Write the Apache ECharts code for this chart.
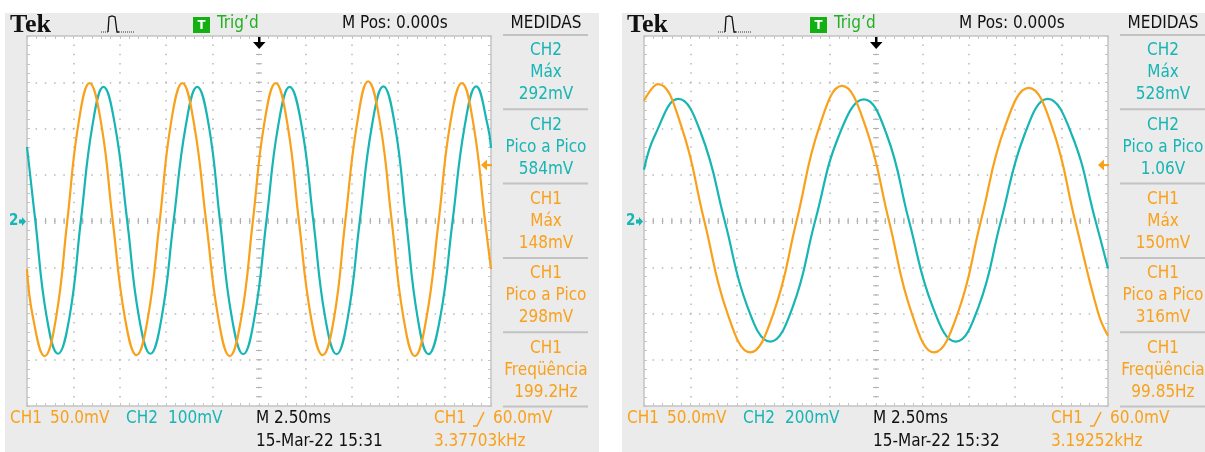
<!DOCTYPE html>
<html><head><meta charset="utf-8">
<script src="https://cdn.jsdelivr.net/npm/echarts@6/dist/echarts.min.js"></script>
<style>html,body{margin:0;padding:0;background:#fff}#c{width:1205px;height:452px}</style>
</head><body><div id="c"></div>
<script>
// ---------- DATA (time in ms relative to trigger, voltage in mV) ----------
// Left screen (≈200 Hz)
const timeL1 = [-12.50,-12.18,-11.55,-10.93,-10.33,-9.73,-9.13,-8.50,-7.88,-7.23,-6.60,-5.98,-5.35,-4.75,-4.13,-3.50,-2.85,-2.20,-1.58,-0.95,-0.33,0.28,0.90,1.53,2.15,2.80,3.43,4.05,4.65,5.28,5.88,6.53,7.15,7.78,8.40,9.03,9.68,10.30,10.93,11.55,12.18,12.50];
const ch1L   = [-52,-104,-146,-104,0,105,149,105,0,-104,-145,-104,0,105,149,105,0,-104,-146,-104,0,105,149,105,0,-104,-145,-104,0,105,151,105,0,-104,-146,-104,0,105,149,105,0,-52];
const timeL2 = [-12.50,-12.05,-11.45,-10.83,-10.20,-9.60,-8.98,-8.38,-7.75,-7.10,-6.48,-5.85,-5.23,-4.60,-3.95,-3.33,-2.70,-2.10,-1.48,-0.85,-0.23,0.40,1.03,1.65,2.30,2.93,3.55,4.18,4.80,5.43,6.08,6.70,7.33,7.93,8.53,9.13,9.78,10.43,11.08,11.70,12.33,12.50];
const ch2L   = [160,0,-205,-287,-205,0,205,290,205,0,-205,-287,-205,0,205,290,205,0,-205,-288,-205,0,205,290,205,0,-205,-288,-205,0,205,291,205,0,-205,-288,-205,0,205,291,205,158];
// Right screen (≈100 Hz)
const timeR1 = [-12.50,-11.75,-10.50,-9.25,-8.00,-6.78,-5.53,-4.28,-3.05,-1.83,-0.58,0.70,1.93,3.13,4.40,5.65,6.95,8.23,9.48,10.73,11.98,12.50];
const ch1R   = [130,148,103,0,-100,-142,-100,0,102,146,103,0,-100,-142,-100,0,102,144,102,0,-100,-124];
const timeR2 = [-12.50,-11.90,-10.65,-9.40,-8.15,-6.93,-5.70,-4.48,-3.28,-1.98,-0.65,0.58,1.78,3.05,4.30,5.53,6.73,8.00,9.25,10.55,11.83,12.50];
const ch2R   = [222,373,528,373,0,-370,-522,-370,0,373,526,373,0,-370,-522,-370,0,373,528,373,0,-205];

// Vertical scale (mV/div) per channel
const voltsPerDivL = [50, 100];
const voltsPerDivR = [50, 200];

// Texts
const measL = [['CH2','Máx','292mV'],['CH2','Pico a Pico','584mV'],['CH1','Máx','148mV'],['CH1','Pico a Pico','298mV'],['CH1','Freqüência','199.2Hz']];
const measR = [['CH2','Máx','528mV'],['CH2','Pico a Pico','1.06V'],['CH1','Máx','150mV'],['CH1','Pico a Pico','316mV'],['CH1','Freqüência','99.85Hz']];
const bottomL = ['50.0mV','100mV','M 2.50ms','15-Mar-22 15:31','60.0mV','3.37703kHz'];
const bottomR = ['50.0mV','200mV','M 2.50ms','15-Mar-22 15:32','60.0mV','3.19252kHz'];
const headerTexts = ['Tek','Trig\u2019d','M Pos: 0.000s','MEDIDAS'];

// ---------- STYLE ----------
const ORANGE = '#f9a11b', CYAN = '#17b5b3', GREY = '#ebebeb';
const BORDER = '#c4c4c4', DOT = '#b8b8b8', TICK = '#b0b0b0';
const FONT = '"DejaVu Sans Condensed","DejaVu Sans",sans-serif';
const PX = 27, PY = 36, PW = 464, PH = 370, DX = 617;

function zip(a,b){return a.map((t,i)=>[t,b[i]]);}

const grids = [], xAxes = [], yAxes = [], series = [];
function buildPanel(gi, left, vpd, t1, c1, t2, c2) {
  grids.push({left: left, top: PY, width: PW, height: PH, show: true, backgroundColor: '#ffffff', borderWidth: 0});
  const tickCommon = {show:true, inside:true, length:3, lineStyle:{color:BORDER, width:1}};
  const minor = {show:true, splitNumber:5, length:3, lineStyle:{color:BORDER, width:1}};
  const aline = {show:true, onZero:false, lineStyle:{color:BORDER, width:1.5}};
  const xBase = xAxes.length, yBase = yAxes.length;
  xAxes.push({gridIndex:gi, type:'value', min:0, max:10, interval:1, position:'bottom', axisLine:aline, axisTick:tickCommon, minorTick:minor, axisLabel:{show:false},
    splitLine:{show:true, showMinLine:false, showMaxLine:false, lineStyle:{color:DOT, width:1.5, type:[1.5,7.75], dashOffset:0.75}}});
  xAxes.push({gridIndex:gi, type:'value', min:0, max:10, interval:1, position:'top', axisLine:aline, axisTick:tickCommon, minorTick:minor, axisLabel:{show:false}, splitLine:{show:false}});
  xAxes.push({gridIndex:gi, type:'value', min:0, max:10, interval:5, position:'bottom', axisLine:{show:false,onZero:false}, axisTick:{show:false}, axisLabel:{show:false},
    splitLine:{show:true, showMinLine:false, showMaxLine:false, lineStyle:{color:TICK, width:6, type:[1.2,8.05], dashOffset:0.6}}});
  xAxes.push({gridIndex:gi, type:'value', min:-12.5, max:12.5, show:false});
  yAxes.push({gridIndex:gi, type:'value', min:-4, max:4, interval:1, position:'left', axisLine:aline, axisTick:tickCommon, minorTick:minor, axisLabel:{show:false},
    splitLine:{show:true, showMinLine:false, showMaxLine:false, lineStyle:{color:DOT, width:1.5, type:[1.5,7.78], dashOffset:0.75}}});
  yAxes.push({gridIndex:gi, type:'value', min:-4, max:4, interval:1, position:'right', axisLine:aline, axisTick:tickCommon, minorTick:minor, axisLabel:{show:false}, splitLine:{show:false}});
  yAxes.push({gridIndex:gi, type:'value', min:-4, max:4, interval:4, position:'left', axisLine:{show:false,onZero:false}, axisTick:{show:false}, axisLabel:{show:false},
    splitLine:{show:true, showMinLine:false, showMaxLine:false, lineStyle:{color:TICK, width:6, type:[1.2,8.08], dashOffset:0.6}}});
  yAxes.push({gridIndex:gi, type:'value', min:-4*vpd[0], max:4*vpd[0], show:false});
  yAxes.push({gridIndex:gi, type:'value', min:-4*vpd[1], max:4*vpd[1], show:false});
  series.push({type:'line', name:'CH2', xAxisIndex:xBase+3, yAxisIndex:yBase+4, data:zip(t2,c2), smooth:0.45, showSymbol:false, z:5, lineStyle:{color:CYAN, width:2.2}});
  series.push({type:'line', name:'CH1', xAxisIndex:xBase+3, yAxisIndex:yBase+3, data:zip(t1,c1), smooth:0.45, showSymbol:false, z:6, lineStyle:{color:ORANGE, width:2.2}});
}
buildPanel(0, PX, voltsPerDivL, timeL1, ch1L, timeL2, ch2L);
buildPanel(1, PX+DX, voltsPerDivR, timeR1, ch1R, timeR2, ch2R);

const G = [];
function txt(x, y, s, color, opts) {
  opts = opts || {};
  G.push({type:'text', x:x, y:y, z:100, style:{text:s, fill:color, font: opts.font || ('17px ' + FONT),
    align: opts.align || 'left', textAlign: opts.align || 'left', verticalAlign:'middle', textVerticalAlign:'middle'}});
}
function panelGraphics(dx, meas, bottom) {
  // header
  txt(10+dx, 25, headerTexts[0], '#111', {font:'bold 26px "Liberation Serif",serif'});
  // acquisition icon
  G.push({type:'polyline', z:100, shape:{points:[[101+dx,32],[108+dx,32]]}, style:{stroke:'#333', lineWidth:1, lineDash:[1,1], fill:null}});
  G.push({type:'polyline', z:100, shape:{points:[[108+dx,32],[109+dx,17],[112+dx,16],[115+dx,17],[117+dx,32],[119+dx,32]]}, style:{stroke:'#111', lineWidth:1.3, fill:null}});
  G.push({type:'polyline', z:100, shape:{points:[[119+dx,32],[135+dx,32]]}, style:{stroke:'#333', lineWidth:1, lineDash:[1,1], fill:null}});
  G.push({type:'rect', z:100, shape:{x:193+dx, y:17, width:17, height:16}, style:{fill:'#12b012'}});
  txt(201.5+dx, 25.5, 'T', '#ffffff', {align:'center', font:'bold 13px ' + FONT});
  txt(217+dx, 24, headerTexts[1], '#22b022');
  txt(342+dx, 24, headerTexts[2], '#111');
  txt(546+dx, 24, headerTexts[3], '#111', {align:'center'});
  // trigger position arrow
  G.push({type:'rect', z:100, shape:{x:258+dx, y:37, width:2.5, height:7}, style:{fill:'#000'}});
  G.push({type:'polygon', z:100, shape:{points:[[253+dx,42],[265.5+dx,42],[259.2+dx,49]]}, style:{fill:'#000'}});
  // CH2 ground marker
  txt(9+dx, 221.5, '2', CYAN, {font:'bold 15px ' + FONT});
  G.push({type:'polygon', z:100, shape:{points:[[19+dx,219.5],[22+dx,219.5],[22+dx,217],[26+dx,221.5],[22+dx,226],[22+dx,223.5],[19+dx,223.5]]}, style:{fill:CYAN}});
  // trigger level arrow
  G.push({type:'polygon', z:100, shape:{points:[[481+dx,165],[487+dx,159.5],[487+dx,170.5]]}, style:{fill:ORANGE}});
  G.push({type:'rect', z:100, shape:{x:486+dx, y:164, width:6, height:2.2}, style:{fill:ORANGE}});
  // measurement panel
  const top0 = 35, bh = 74.3;
  for (let i = 0; i <= 5; i++) {
    G.push({type:'rect', z:100, shape:{x:503+dx, y:top0 + i*bh - 1, width:85, height:2}, style:{fill:'#c2c2c2'}});
  }
  meas.forEach((m, i) => {
    const col = m[0] === 'CH2' ? CYAN : ORANGE;
    const y0 = top0 + i*bh;
    txt(546+dx, y0+16, m[0], col, {align:'center'});
    txt(546+dx, y0+38, m[1], col, {align:'center'});
    txt(546+dx, y0+60, m[2], col, {align:'center'});
  });
  // bottom status
  const r1 = 419, r2 = 442;
  txt(10+dx, r1, 'CH1', ORANGE); txt(50+dx, r1, bottom[0], ORANGE);
  txt(126+dx, r1, 'CH2', CYAN); txt(168+dx, r1, bottom[1], CYAN);
  txt(256+dx, r1, bottom[2], '#111');
  txt(256+dx, r2, bottom[3], '#111');
  txt(434+dx, r1, 'CH1', ORANGE);
  G.push({type:'polyline', z:100, shape:{points:[[473+dx,426],[477+dx,426],[484+dx,412]]}, style:{stroke:ORANGE, lineWidth:1.6, fill:null}});
  txt(493+dx, r1, bottom[4], ORANGE);
  txt(434+dx, r2, bottom[5], ORANGE);
}
// white margins around the two screens
G.push({type:'rect', z:90, shape:{x:0, y:0, width:1205, height:13}, style:{fill:'#ffffff'}});
G.push({type:'rect', z:90, shape:{x:0, y:0, width:5, height:452}, style:{fill:'#ffffff'}});
G.push({type:'rect', z:90, shape:{x:599, y:0, width:23, height:452}, style:{fill:'#ffffff'}});
panelGraphics(0, measL, bottomL);
panelGraphics(DX, measR, bottomR);

const chart = echarts.init(document.getElementById('c'), null, {renderer:'canvas'});
chart.setOption({
  animation: false,
  backgroundColor: GREY,
  grid: grids,
  xAxis: xAxes,
  yAxis: yAxes,
  series: series,
  graphic: {elements: G}
});
</script></body></html>
